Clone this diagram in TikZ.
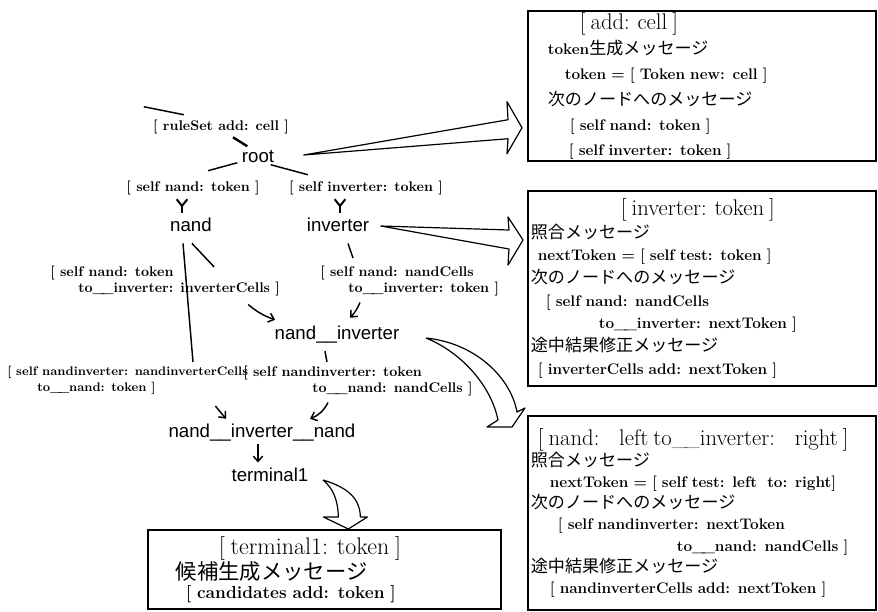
\documentclass[tikz,border=0pt]{standalone}
\usepackage{fontspec}
\newfontfamily\nodefont{Liberation Sans}
\newfontfamily\jp{Noto Sans CJK JP}
\usetikzlibrary{arrows.meta,calc,positioning}

\newlength\pxu
\setlength\pxu{0.75pt}
\setlength\lineskiplimit{-20pt}
\newcommand\ind[1]{\hspace*{#1\pxu}}
\newcommand\dus{\_\kern-2.5pt\_}
\newcommand\boxhead[2][17]{{\fontsize{#1}{#1}\selectfont\mdseries #2}}
\newcommand\jpt[2][12.8]{{\jp\mdseries\fontsize{#1}{#1}\selectfont #2}}

\begin{document}
\begin{tikzpicture}[x=0.75pt,y=-0.75pt]

	\tikzstyle{tnode}=[font=\nodefont\fontsize{14}{14}\selectfont,inner sep=1pt]
	\tikzstyle{msg}=[font=\fontsize{10.5}{12}\selectfont\bfseries,align=left,inner sep=0pt]
	\tikzstyle{link}=[line width=1.1pt]
	\tikzstyle{arrow}=[link,-{Straight Barb[length=4pt,width=7pt]}]
	\tikzstyle{fork}=[line width=1.5pt,{Straight Barb[reversed,length=5pt,width=8pt]}-]
	\tikzstyle{hollow}=[line width=0.9pt,line join=round]
	\tikzstyle{rulebox}=[draw,line width=1.3pt,anchor=north west,
		inner xsep=0pt,inner ysep=0pt,align=left]

	\useasboundingbox (0,0) rectangle (878,611);

	% network of rule nodes
	\node[msg] (rule) at (221,127) {[ ruleSet add: cell ]};
	\node[tnode] (root) at (258,157) {root};
	\node[msg] (msgnand) at (193,188) {[ self nand: token ]};
	\node[msg] (msginv) at (366,188) {[ self inverter: token ]};
	\node[tnode] (nand) at (191,225) {nand};
	\node[tnode] (inverter) at (338,225) {inverter};
	\node[msg,anchor=north west] (msgni1) at (50,266) {[ self nand: token\\\ind{28}to\dus inverter: inverterCells ]};
	\node[msg,anchor=north west] (msgni2) at (320,266) {[ self nand: nandCells\\\ind{28}to\dus inverter: token ]};
	\node[tnode] (nandinv) at (337,335) {nand\_\_inverter};
	\node[msg,anchor=north west,font=\fontsize{9.3}{12}\selectfont\bfseries] (msgnin1) at (7,366) {[ self nandinverter: nandinverterCells\\\ind{30}to\dus nand: token ]};
	\node[msg,anchor=north west] (msgnin2) at (243,366) {[ self nandinverter: token\\\ind{69}to\dus nand: nandCells ]};
	\node[tnode] (nin) at (262,433) {nand\_\_inverter\_\_nand};
	\node[tnode] (terminal) at (270,475) {terminal1};

	% rule boxes
	\node[rulebox,minimum width=261pt,text width=261pt,minimum height=112.5pt,
		font=\fontsize{11.5}{19}\selectfont\bfseries] (addbox) at (527,10) {%
		\ind{52}\boxhead{[ add: cell ]}\\
		\ind{20}token\jpt{生成メッセージ}\\
		\ind{37}token = [ Token new: cell ]\\
		\ind{20}\jpt{次のノードへのメッセージ}\\
		\ind{42}[ self nand: token ]\\
		\ind{41}[ self inverter: token ]};
	\node[rulebox,minimum width=261pt,text width=261pt,minimum height=146.25pt,
		font=\fontsize{11.5}{17}\selectfont\bfseries] (invbox) at (527,190) {%
		\ind{93}\boxhead{[ inverter: token ]}\\
		\ind{3}\jpt{照合メッセージ}\\
		\ind{10}nextToken = [ self test: token ]\\
		\ind{3}\jpt{次のノードへのメッセージ}\\
		\ind{18}[ self nand: nandCells\\
		\ind{71}to\dus inverter: nextToken ]\\
		\ind{3}\jpt{途中結果修正メッセージ}\\
		\ind{10}[ inverterCells add: nextToken ]};
	\node[rulebox,minimum width=261pt,text width=261pt,minimum height=145.5pt,
		font=\fontsize{11.5}{15.8}\selectfont\bfseries] (nandbox) at (527,415) {%
		\ind{10}\boxhead{[ nand:\hspace{9pt} left to\dus inverter:\hspace{9pt} right ]}\\
		\ind{3}\jpt{照合メッセージ}\\
		\ind{22}nextToken = [ self test: left\ \ to: right]\\
		\ind{3}\jpt{次のノードへのメッセージ}\\
		\ind{30}[ self nandinverter: nextToken\\
		\ind{149}to\dus nand: nandCells ]\\
		\ind{3}\jpt{途中結果修正メッセージ}\\
		\ind{22}[ nandinverterCells add: nextToken ]};
	\node[rulebox,minimum width=264.75pt,text width=264.75pt,minimum height=59.25pt,
		font=\fontsize{13}{14}\selectfont\bfseries] (termbox) at (147,529) {%
		\ind{71}\boxhead[18]{[ terminal1: token ]}\\
		\ind{28}\jpt[16]{候補生成メッセージ}\\
		\ind{38}[ candidates add: token ]};

	% message links
	\coordinate (src) at ($(rule.north west)+(-9,-13)$);
	\draw[link] (src) -- ($(rule.north west)+(31,-5)$);
	\draw[link,line width=1.8pt] ($(rule.south)+(12,3)$) -- ($(root.north west)+(7,-3)$);
	\draw[link] ($(root.south west)+(-3,-2)$) -- ($(msgnand.north)+(15,-10)$);
	\draw[link] ($(root.south east)+(-5,0)$) -- ($(msginv.north west)+(19,-6)$);
	\draw[fork] ($(msgnand.south)+(-11,3)$) -- ($(nand.north)+(-9,-4)$);
	\draw[fork] ($(msginv.south)+(-26,3)$) -- ($(inverter.north)+(2,-4)$);
	\draw[link] ($(nand.south)+(1,10)$) -- ($(msgni1.north east)+(-66,1)$);
	\draw[link] ($(nand.south)+(-8,10)$) -- ($(msgnin1.north west)+(186,-4)$);
	\draw[arrow] ($(msgni1.south east)+(-32,8)$) to[bend right=10] ($(nandinv.north west)+(2,-5)$);
	\draw[link] ($(inverter.south)+(10,10)$) -- ($(msgni2.north west)+(33,-8)$);
	\draw[arrow] ($(msgni2.south west)+(40,6)$) to[bend left=10] ($(nandinv.north)+(13,-7)$);
	\draw[link] ($(nandinv.south)+(-12,6)$) -- ($(msgnin2.north west)+(84,-4)$);
	\draw[arrow] ($(msgnin2.south west)+(85,6)$) to[bend left=20] ($(nin.north east)+(-47,-4)$);
	\draw[arrow] ($(msgnin1.south east)+(-33,11)$) -- ($(nin.north west)+(59,-4)$);
	\draw[arrow] ($(nin.south)+(-4,1)$) -- ($(terminal.north)+(-12,-4)$);

	% hollow arrows to the rule boxes
	\coordinate (s1) at ($(root.east)+(28,-2)$);
	\coordinate (t1) at ($(addbox.south west)+(-5,-34)$);
	\draw[hollow] (s1) -- ($(t1)+(-14,-8)$) -- ($(t1)+(-15,-26)$) -- (t1) -- ($(t1)+(-15,26)$) -- ($(t1)+(-14,11)$) -- cycle;
	\coordinate (s2) at ($(inverter.east)+(10,1)$);
	\coordinate (t2) at ($(invbox.north west)+(-4,50)$);
	\draw[hollow] (s2) -- ($(t2)+(-14,-10)$) -- ($(t2)+(-15,-23)$) -- (t2) -- ($(t2)+(-15,25)$) -- ($(t2)+(-14,9)$) -- cycle;
	\coordinate (s3) at ($(nandinv.east)+(25,3)$);
	\coordinate (t3) at ($(nandbox.north west)+(-15,12)$);
	\draw[hollow] (s3) .. controls ($(s3)+(50,5)$) and ($(s3)+(85,40)$) .. ($(t3)+(5,-15)$) -- ($(t3)+(13,-19)$) -- (t3) -- ($(t3)+(-25,0)$) -- ($(t3)+(-14,-7)$) .. controls ($(s3)+(65,47)$) and ($(s3)+(35,14)$) .. (s3);
	\coordinate (s4) at ($(terminal.east)+(13,5)$);
	\coordinate (t4) at ($(termbox.north)+(24,0)$);
	\draw[hollow] (s4) .. controls ($(s4)+(27,8)$) and ($(s4)+(37,20)$) .. ($(t4)+(12,-12)$) -- ($(t4)+(19,-12)$) -- (t4) -- ($(t4)+(-25,-12)$) -- ($(t4)+(-10,-12)$) .. controls ($(s4)+(15,20)$) and ($(s4)+(10,8)$) .. (s4);

\end{tikzpicture}
\end{document}
